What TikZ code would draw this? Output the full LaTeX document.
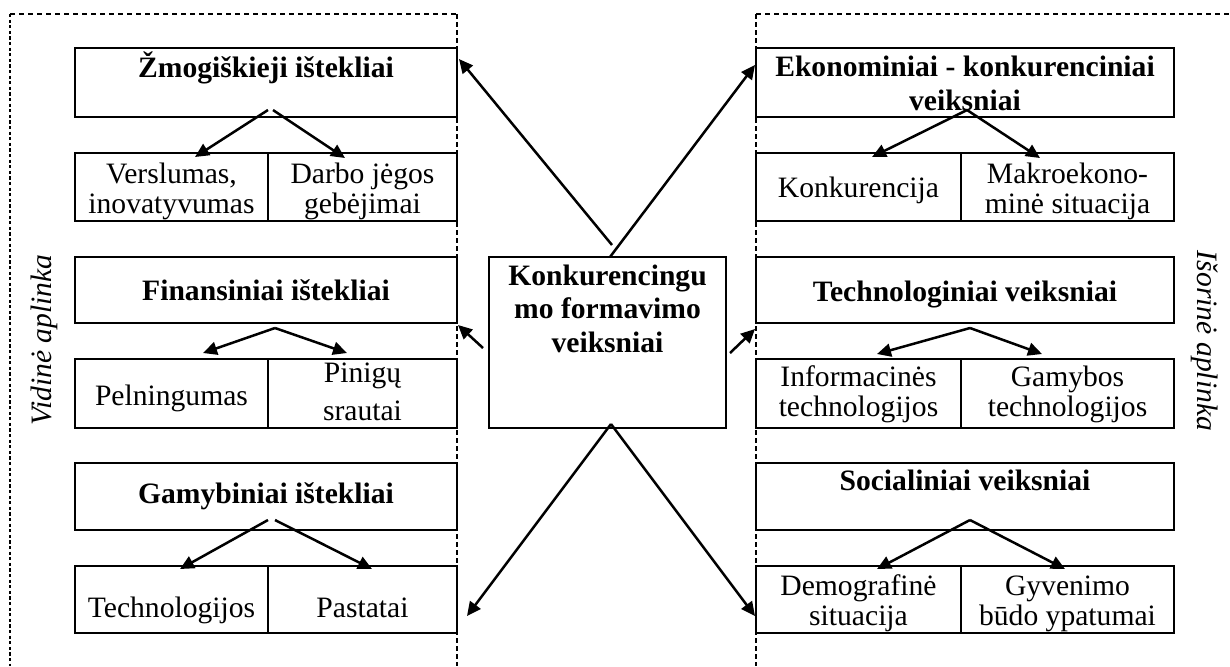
\documentclass[tikz,border=0pt]{standalone}
\usepackage{fontspec}
\setmainfont{Liberation Serif}
\usetikzlibrary{arrows.meta}
\begin{document}
\begin{tikzpicture}[x=0.5pt,y=-0.5pt,
  bx/.style 2 args={draw, line width=1.2pt, fill=white, minimum width=#1*0.5pt, minimum height=#2*0.5pt, inner sep=0pt, outer sep=0pt},
  subtext/.style={align=center, anchor=base, inner sep=0pt, font=\fontsize{14.8}{14.75}\selectfont},
  titletext/.style={align=center, anchor=base, inner sep=0pt, font=\bfseries\fontsize{14.8}{16.75}\selectfont},
  sidetext/.style={font=\itshape\fontsize{14.8}{16}\selectfont, inner sep=0pt},
  arr/.style={line width=1.25pt, -{Triangle[length=7pt,width=6.5pt]}},
  frametop/.style={line width=1.1pt, dash pattern=on 2.6pt off 1.9pt},
  frameouter/.style={line width=1.4pt, dash pattern=on 1.6pt off 1.2pt},
  frameinner/.style={line width=1.1pt, dash pattern=on 2.4pt off 1.6pt}]
\useasboundingbox (0,0) rectangle (1230,666);

% frames
\coordinate (lt1) at (10,14);
\coordinate (lt2) at (457,14);
\coordinate (lb1) at (10,666);
\coordinate (lb2) at (457,666);
\coordinate (rt1) at (756,14);
\coordinate (rt2) at (1230,14);
\coordinate (rb1) at (756,666);
\draw[frametop] (lt1) -- (lt2);
\draw[frameouter] (lt1) -- (lb1);
\draw[frameinner] (lt2) -- (lb2);
\draw[frametop] (rt1) -- (rt2);
\draw[frameinner] (rt1) -- (rb1);

% side labels
\node[sidetext, rotate=90] (vid) at (44,340) {Vidinė aplinka};
\node[sidetext, rotate=-90] (isor) at (1205,341) {Išorinė aplinka};

% left title boxes
\node[bx={382}{69}] (zb) at (266,82.5) {};
\node[titletext] (zt) at (266,77) {Žmogiškieji ištekliai};
\node[bx={382}{66}] (fb) at (266,290) {};
\node[titletext] (ft) at (266,300) {Finansiniai ištekliai};
\node[bx={382}{67}] (gb) at (266,496.5) {};
\node[titletext] (gt) at (266,503) {Gamybiniai ištekliai};

% left sub cells
\node[bx={193}{68}] (z1) at (171.5,187) {};
\node[bx={189}{68}] (z2) at (362.5,187) {};
\node[bx={193}{69}] (f1) at (171.5,393.5) {};
\node[bx={189}{69}] (f2) at (362.5,393.5) {};
\node[bx={193}{67}] (g1) at (171.5,599.5) {};
\node[bx={189}{67}] (g2) at (362.5,599.5) {};
\node[subtext] (z1t) at (171.5,213) {Verslumas,\\inovatyvumas};
\node[subtext] (z2t) at (362.5,213) {Darbo jėgos\\gebėjimai};
\node[subtext] (f1t) at (171.5,405) {Pelningumas};
\node[subtext] (f2t) at (362.5,420) {Pinigų\\[3.9pt]srautai};
\node[subtext] (g1t) at (171.5,617) {Technologijos};
\node[subtext] (g2t) at (362.5,617) {Pastatai};

% right title boxes
\node[bx={418}{69}] (eb) at (965,82.5) {};
\node[titletext] (et) at (965,110) {Ekonominiai - konkurenciniai\\veiksniai};
\node[bx={418}{66}] (tb) at (965,290) {};
\node[titletext] (tt) at (965,301) {Technologiniai veiksniai};
\node[bx={418}{67}] (sb) at (965,496.5) {};
\node[titletext] (st) at (965,490) {Socialiniai veiksniai};

% right sub cells
\node[bx={205}{68}] (e1) at (858.5,187) {};
\node[bx={213}{68}] (e2) at (1067.5,187) {};
\node[bx={205}{69}] (t1) at (858.5,393.5) {};
\node[bx={213}{69}] (t2) at (1067.5,393.5) {};
\node[bx={205}{67}] (s1) at (858.5,599.5) {};
\node[bx={213}{67}] (s2) at (1067.5,599.5) {};
\node[subtext] (e1t) at (858.5,197) {Konkurencija};
\node[subtext] (e2t) at (1067.5,213) {Makroekono-\\minė situacija};
\node[subtext] (t1t) at (858.5,416) {Informacinės\\technologijos};
\node[subtext] (t2t) at (1067.5,416) {Gamybos\\technologijos};
\node[subtext] (s1t) at (858.5,625) {Demografinė\\situacija};
\node[subtext] (s2t) at (1067.5,625) {Gyvenimo\\būdo ypatumai};

% center box
\node[bx={237}{171}] (cb) at (607.5,342.5) {};
\node[titletext] (ct) at (607.5,352) {Konkurencingu\\mo formavimo\\veiksniai};

% arrow end points
\coordinate (c1) at (612,245);
\coordinate (c2) at (610,257);
\coordinate (c3) at (483,348);
\coordinate (c4) at (730,353);
\coordinate (c5) at (611,424);
\coordinate (tz) at (459,59);
\coordinate (te) at (755,65);
\coordinate (tf) at (458,325);
\coordinate (tt2) at (755,329);
\coordinate (tg) at (467,616);
\coordinate (ts) at (755,616);

\draw[arr] (c1) -- (tz);
\draw[arr] (c2) -- (te);
\draw[arr] (c3) -- (tf);
\draw[arr] (c4) -- (tt2);
\draw[arr] (c5) -- (tg);
\draw[arr] (c5) -- (ts);

% sub arrows
\coordinate (za1) at (268,110);
\coordinate (za2) at (273,110);
\coordinate (zt1) at (195,157);
\coordinate (zt2) at (345,158);
\draw[arr] (za1) -- (zt1);
\draw[arr] (za2) -- (zt2);

\coordinate (fa) at (275,328);
\coordinate (ft1) at (203,353);
\coordinate (ft2) at (347,353);
\draw[arr] (fa) -- (ft1);
\draw[arr] (fa) -- (ft2);

\coordinate (ga1) at (268,520);
\coordinate (ga2) at (275,520);
\coordinate (gt1) at (180,569);
\coordinate (gt2) at (372,569);
\draw[arr] (ga1) -- (gt1);
\draw[arr] (ga2) -- (gt2);

\coordinate (ea) at (967,110);
\coordinate (et1) at (872,157);
\coordinate (et2) at (1040,158);
\draw[arr] (ea) -- (et1);
\draw[arr] (ea) -- (et2);

\coordinate (ta) at (970,328);
\coordinate (tt1) at (877,354);
\coordinate (tt3) at (1042,354);
\draw[arr] (ta) -- (tt1);
\draw[arr] (ta) -- (tt3);

\coordinate (sa) at (970,520);
\coordinate (st1) at (877,569);
\coordinate (st2) at (1065,569);
\draw[arr] (sa) -- (st1);
\draw[arr] (sa) -- (st2);
\end{tikzpicture}
\end{document}
